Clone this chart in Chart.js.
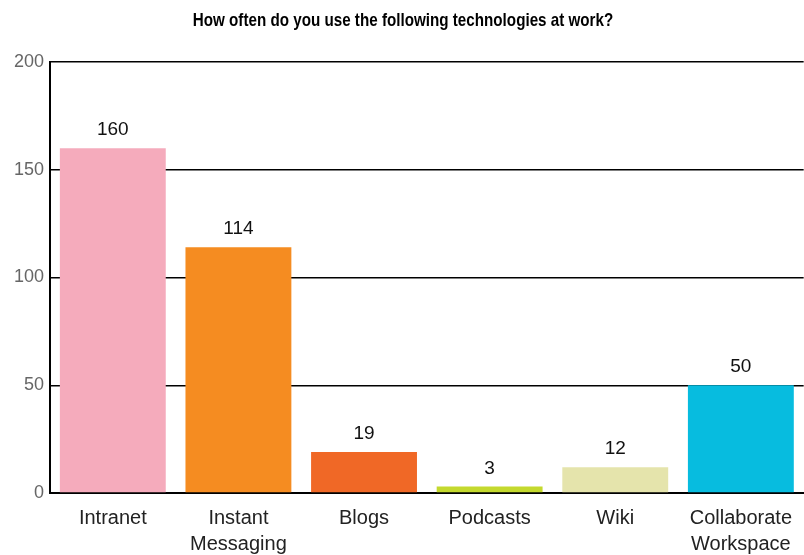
<!DOCTYPE html>
<html>
<head>
<meta charset="utf-8">
<script src="https://cdn.jsdelivr.net/npm/chart.js@4/dist/chart.umd.min.js"></script>
<style>
  html, body { margin: 0; padding: 0; background: #fff; }
  #wrap { width: 804px; height: 555px; position: relative; }
</style>
</head>
<body>
<div id="wrap"><canvas id="chart"></canvas></div>
<script>
// Technology usage bar chart

var titleText = 'How often do you use the following technologies at work?';
var categories = ['Intranet', ['Instant', 'Messaging'], 'Blogs', 'Podcasts', 'Wiki', ['Collaborate', 'Workspace']];
var counts = [160, 114, 19, 3, 12, 50];
var barColors = ['#F5ABBC', '#F58C21', '#F06826', '#C4D92E', '#E5E4AC', '#07BCDF'];
var yTicks = [0, 50, 100, 150, 200];

var FONT = 'Helvetica, "Liberation Sans", Arial, sans-serif';

// title (squeezed to look like a condensed bold face) and value labels over the bars
var labelsPlugin = {
  id: 'barLabels',
  afterDatasetsDraw: function (chart) {
    var ctx = chart.ctx;
    ctx.save();
    ctx.fillStyle = '#111';
    ctx.font = '19px ' + FONT;
    ctx.textAlign = 'center';
    ctx.textBaseline = 'alphabetic';
    chart.getDatasetMeta(0).data.forEach(function (bar, i) {
      ctx.fillText(String(counts[i]), bar.x, bar.y - 13);
    });
    ctx.restore();

    ctx.save();
    ctx.fillStyle = '#000';
    ctx.font = 'bold 19px ' + FONT;
    ctx.textAlign = 'center';
    ctx.textBaseline = 'alphabetic';
    ctx.translate(403, 26);
    ctx.scale(0.8, 1);
    ctx.fillText(titleText, 0, 0);
    ctx.restore();
  }
};

new Chart(document.getElementById('chart'), {
  type: 'bar',
  data: {
    labels: categories,
    datasets: [{
      data: counts,
      backgroundColor: barColors,
      borderWidth: 0,
      barPercentage: 0.843,
      categoryPercentage: 1
    }]
  },
  options: {
    responsive: true,
    maintainAspectRatio: false,
    animation: false,
    layout: { padding: { top: 62, right: 0, left: 0, bottom: 0 } },
    scales: {
      x: {
        afterFit: function (s) { s.height = 62; },
        grid: { display: false, drawTicks: false },
        border: { color: '#000', width: 2 },
        ticks: {
          color: '#222',
          padding: 12,
          font: { size: 20, family: FONT, lineHeight: 1.3 },
          maxRotation: 0,
          autoSkip: false
        }
      },
      y: {
        min: 0,
        max: 200,
        afterFit: function (s) { s.width = 50; },
        afterBuildTicks: function (s) {
          s.ticks = yTicks.map(function (v) { return { value: v }; });
        },
        grid: { color: '#000', lineWidth: 1.5, drawTicks: false },
        border: { color: '#000', width: 2 },
        ticks: {
          color: '#666',
          padding: 6,
          font: { size: 18, family: FONT }
        }
      }
    },
    plugins: {
      legend: { display: false },
      tooltip: { enabled: false }
    }
  },
  plugins: [labelsPlugin]
});
</script>
</body>
</html>
